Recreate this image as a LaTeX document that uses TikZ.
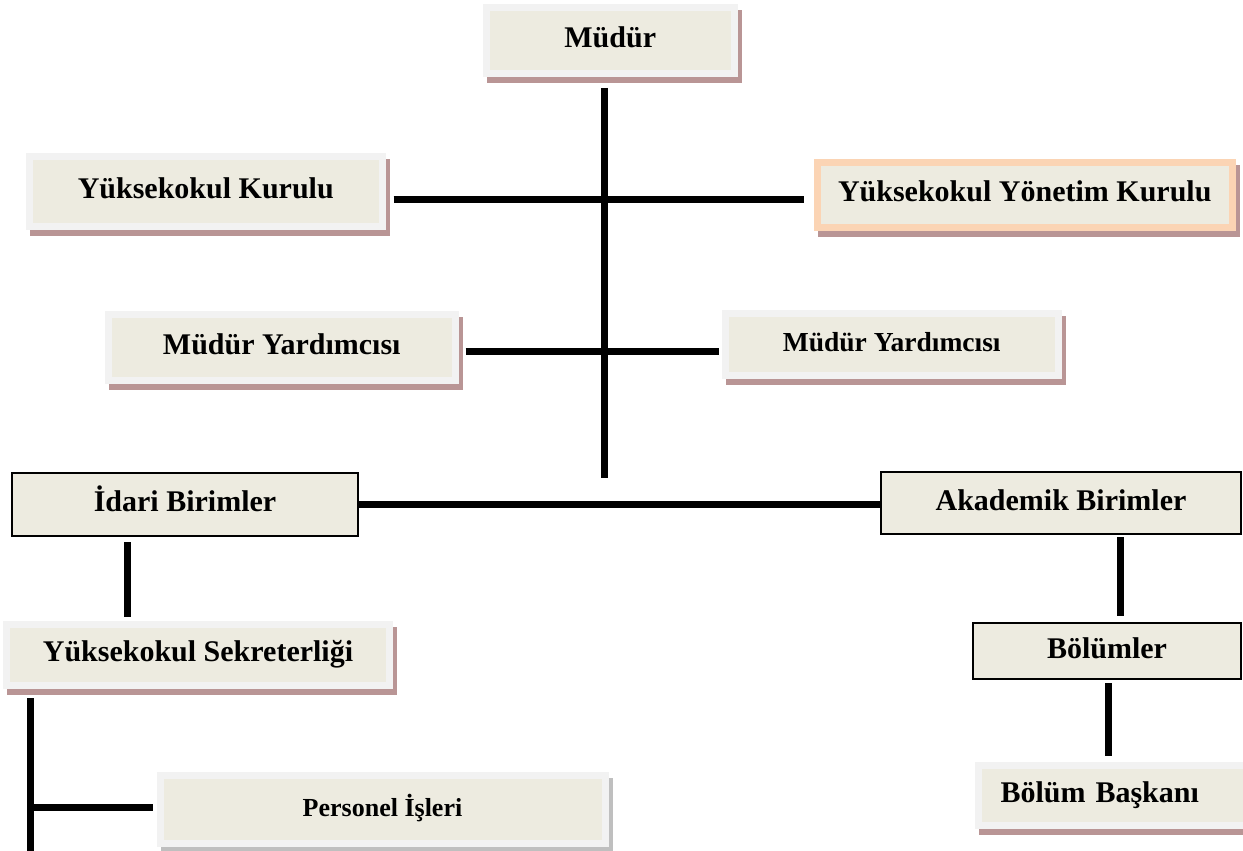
\documentclass[tikz,border=0pt]{standalone}
\usepackage{fontspec}
\setmainfont{Liberation Serif}
\usetikzlibrary{calc}

\definecolor{boxfill}{HTML}{EDEBE0}
\definecolor{framegray}{HTML}{F2F2F2}
\definecolor{framepeach}{HTML}{FBD4B4}
\definecolor{shadowrose}{HTML}{B99595}
\definecolor{shadowgray}{HTML}{BFBFBF}

\tikzset{
  unit/.style={font=\fontsize{30}{36}\selectfont\bfseries, inner sep=0pt,
    text height=21pt, text depth=7pt},
  framed/.style={unit, fill=boxfill, draw=framegray, line width=7pt,
    preaction={draw=#1, fill=#1, line width=7pt,
      transform canvas={shift={(4pt,-6pt)}}}},
  framed/.default=shadowrose,
  plain/.style={unit, fill=boxfill, draw=black, line width=1.6pt},
  conn/.style={draw=black, line width=7pt}
}

\begin{document}
\begin{tikzpicture}[x=1pt, y=-1pt]

\useasboundingbox (0,0) rectangle (1243,851);

% top of the chart
\node[framed, minimum width=247.5pt, minimum height=66.5pt] (mudur) at (610.25,40.75) {Müdür};
\node[framed, minimum width=353.5pt, minimum height=70pt] (yk) at (205.75,191.5) {Yüksekokul Kurulu};
\node[framed, draw=framepeach, minimum width=415.5pt, minimum height=65pt] (ykyk) at (1024.75,194.5) {Yüksekokul Yönetim Kurulu};
\node[framed, minimum width=347.5pt, minimum height=66pt] (myl) at (281.75,347) {Müdür Yardımcısı};
\node[framed, minimum width=332.5pt, minimum height=62pt, font=\fontsize{27.5}{33}\selectfont\bfseries] (myr) at (891.75,344.5) {Müdür Yardımcısı};

% units
\node[plain, minimum width=346pt, minimum height=63pt] (idari) at (185,504.5) {İdari Birimler};
\node[plain, minimum width=360pt, minimum height=62pt] (akd) at (1061,503) {Akademik Birimler};
\node[plain, minimum width=268pt, minimum height=56pt] (bol) at (1107,651) {Bölümler};
\node[framed, minimum width=383pt, minimum height=61.5pt] (sek) at (198,654.75) {Yüksekokul Sekreterliği};
\node[framed=shadowgray, minimum width=445pt, minimum height=67.5pt, font=\fontsize{26}{31}\selectfont\bfseries] (per) at (382.5,809.25) {Personel İşleri};
\node[framed, anchor=west, inner xsep=22pt, text width=241pt, align=left, minimum height=60pt] (bb) at (975,795.5) {Bölüm Başkanı};

% main spine
\coordinate (sp1) at (604,88);
\coordinate (sp2) at (604,478);
\draw[conn] (sp1) -- (sp2);

% branches off the spine
\coordinate (j1) at (604,199);
\draw[conn] ($(j1 -| yk.east)+(7.5,0)$) -- ($(j1 -| ykyk.west)+(-10,0)$);
\coordinate (j2) at (604,351);
\draw[conn] ($(j2 -| myl.east)+(6.5,0)$) -- ($(j2 -| myr.west)+(-3.5,0)$);
\draw[conn] (idari.east) -- (idari.east -| akd.west);

% left side
\coordinate (ia) at (127,542);
\draw[conn] (ia) -- ($(ia |- sek.north)+(0,-4)$);
\coordinate (s1) at (30,698);
\coordinate (s2) at (30,851);
\draw[conn] (s1) -- (s2);
\coordinate (j4) at (30,807);
\draw[conn] (j4) -- ($(j4 -| per.west)+(-3.5,0)$);

% right side
\coordinate (ab) at (1120,537);
\draw[conn] (ab) -- ($(ab |- bol.north)+(0,-6)$);
\coordinate (bb1) at (1108,683);
\draw[conn] (bb1) -- ($(bb1 |- bb.north)+(0,-6.5)$);

\end{tikzpicture}
\end{document}
